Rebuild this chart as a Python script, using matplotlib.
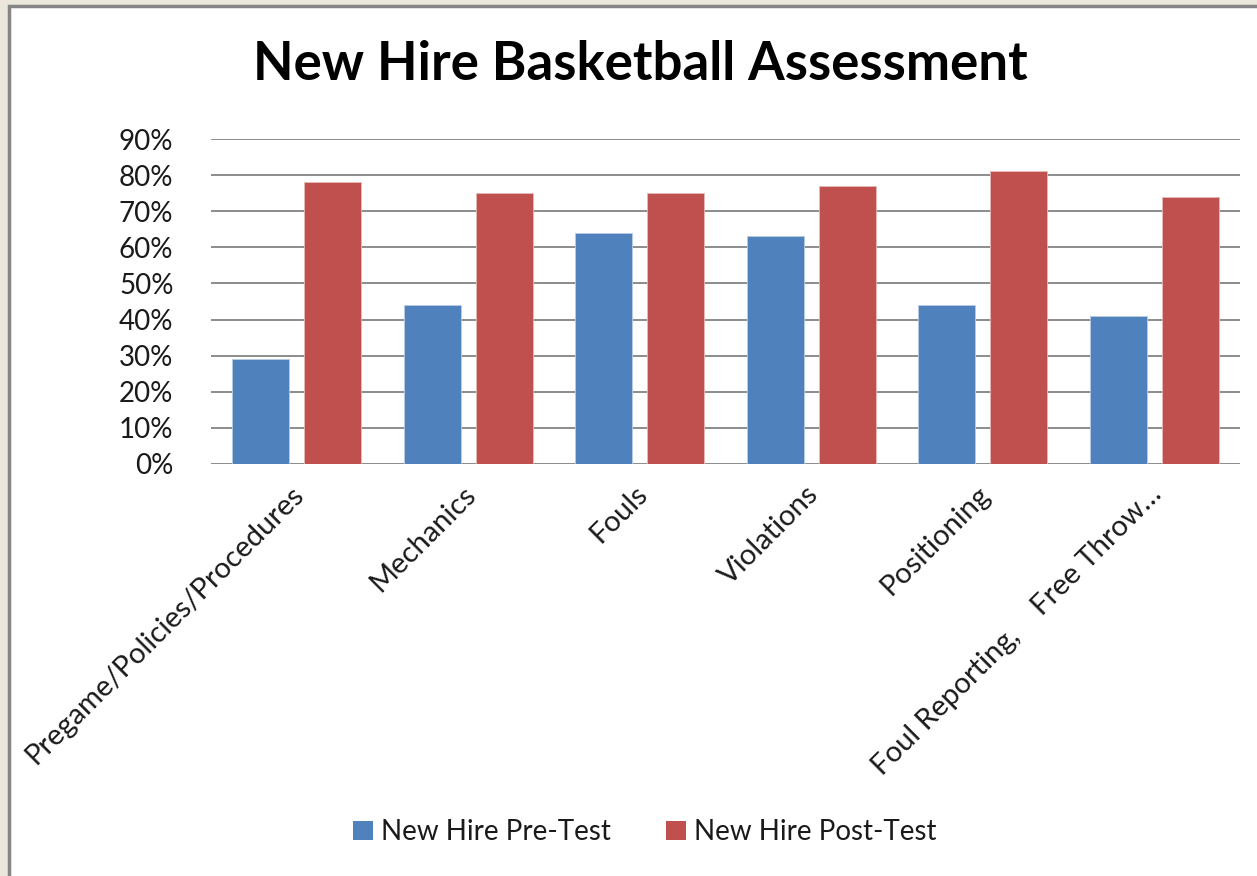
import numpy as np
import matplotlib
matplotlib.use("Agg")
import matplotlib.pyplot as plt
from matplotlib.patches import Rectangle, Patch
from matplotlib.ticker import PercentFormatter

plt.rcParams['font.family'] = ['Lato', 'DejaVu Sans']

categories = ["Pregame/Policies/Procedures", "Mechanics", "Fouls", "Violations",
              "Positioning", "Foul Reporting,    Free Throw\u2026"]
pre_test = [0.29, 0.44, 0.64, 0.63, 0.44, 0.41]
post_test = [0.78, 0.75, 0.75, 0.77, 0.81, 0.74]
series_names = ["New Hire Pre-Test", "New Hire Post-Test"]

blue = "#4F81BD"
red = "#C0504D"

W, H = 1257, 876
fig = plt.figure(figsize=(W / 100, H / 100), dpi=100, facecolor="#ebe7dc")

# white chart sheet with grey frame, kept behind the axes
fig.patches.append(Rectangle((9 / W, -0.1), 1.2, 1 - 6 / H + 0.1, transform=fig.transFigure,
                             facecolor="white", edgecolor="#858585", linewidth=2.5, zorder=-5))

ax = fig.add_axes([211 / W, 1 - 464 / H, (1240 - 211) / W, (464 - 139) / H], zorder=2)
ax.set_facecolor("none")

x = np.arange(len(categories))
bw = 0.333
ax.bar(x - 0.21, pre_test, bw, color=blue, edgecolor="#b8cce4", linewidth=0.6, zorder=3)
ax.bar(x + 0.21, post_test, bw, color=red, edgecolor="#e6b9b8", linewidth=0.6, zorder=3)

ax.set_xlim(-0.5, len(categories) - 0.5)
ax.set_ylim(0, 0.9)
ax.set_yticks(np.arange(0, 0.91, 0.1))
ax.yaxis.set_major_formatter(PercentFormatter(1.0, decimals=0))
ax.grid(axis="y", color="#8c8c8c", linewidth=1.4, zorder=0)
ax.set_axisbelow(True)
for s in ax.spines.values():
    s.set_visible(False)
ax.tick_params(axis="y", length=0, pad=27, labelsize=20, labelcolor="#1a1a1a")
ax.tick_params(axis="x", length=0)
ax.set_xticks(x)
ax.set_xticklabels(categories, rotation=45, ha="right", rotation_mode="anchor",
                   fontsize=21, color="#1a1a1a")
for lbl in ax.get_xticklabels():
    lbl.set_transform(lbl.get_transform() + matplotlib.transforms.ScaledTranslation(-0.06, -0.12, fig.dpi_scale_trans))

fig.text(640 / W, 1 - 65 / H, "New Hire Basketball Assessment", ha="center", va="center",
         fontsize=38, fontweight="bold", color="black")

handles = [Patch(facecolor=blue), Patch(facecolor=red)]
fig.legend(handles, series_names, loc="center", bbox_to_anchor=(645 / W, 1 - 832 / H),
           ncol=2, frameon=False, fontsize=20, handlelength=0.7, handleheight=0.7,
           handletextpad=0.3, columnspacing=2.0, labelcolor="#1a1a1a")

fig.savefig("out.png", dpi=100, facecolor=fig.get_facecolor())
